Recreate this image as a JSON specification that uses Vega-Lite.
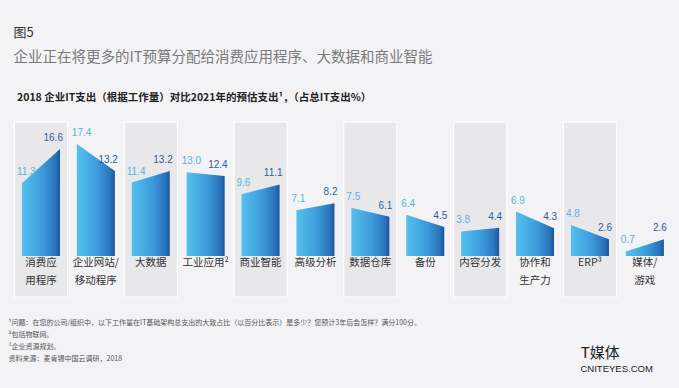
{
  "$schema": "https://vega.github.io/schema/vega-lite/v6.json",
  "autosize": {"type": "none"},
  "width": 658.8,
  "height": 175,
  "padding": {"left": 13.5, "top": 122, "right": 6.7, "bottom": 91},
  "background": "#f3f2f5",
  "title": {
    "text": "图5",
    "subtitle": "企业正在将更多的IT预算分配给消费应用程序、大数据和商业智能",
    "anchor": "start",
    "frame": "group",
    "font": "Noto Sans CJK SC",
    "fontSize": 13,
    "fontWeight": "normal",
    "color": "#333333",
    "subtitleFont": "Noto Sans CJK SC",
    "subtitleFontSize": 14.5,
    "subtitleColor": "#7a7a7a",
    "subtitlePadding": 11,
    "offset": 28
  },
  "config": {
    "view": {"stroke": null},
    "axis": {"domain": false, "ticks": false, "labels": false, "grid": false}
  },
  "data": {
    "values": [
      {"cat": "消费应\n用程序", "year": 2018, "value": 11.3},
      {"cat": "消费应\n用程序", "year": 2021, "value": 16.6},
      {"cat": "企业网站/\n移动程序", "year": 2018, "value": 17.4},
      {"cat": "企业网站/\n移动程序", "year": 2021, "value": 13.2},
      {"cat": "大数据", "year": 2018, "value": 11.4},
      {"cat": "大数据", "year": 2021, "value": 13.2},
      {"cat": "工业应用²", "year": 2018, "value": 13.0},
      {"cat": "工业应用²", "year": 2021, "value": 12.4},
      {"cat": "商业智能", "year": 2018, "value": 9.6},
      {"cat": "商业智能", "year": 2021, "value": 11.1},
      {"cat": "高级分析", "year": 2018, "value": 7.1},
      {"cat": "高级分析", "year": 2021, "value": 8.2},
      {"cat": "数据仓库", "year": 2018, "value": 7.5},
      {"cat": "数据仓库", "year": 2021, "value": 6.1},
      {"cat": "备份", "year": 2018, "value": 6.4},
      {"cat": "备份", "year": 2021, "value": 4.5},
      {"cat": "内容分发", "year": 2018, "value": 3.8},
      {"cat": "内容分发", "year": 2021, "value": 4.4},
      {"cat": "协作和\n生产力", "year": 2018, "value": 6.9},
      {"cat": "协作和\n生产力", "year": 2021, "value": 4.3},
      {"cat": "ERP³", "year": 2018, "value": 4.8},
      {"cat": "ERP³", "year": 2021, "value": 2.6},
      {"cat": "媒体/\n游戏", "year": 2018, "value": 0.7},
      {"cat": "媒体/\n游戏", "year": 2021, "value": 2.6}
    ]
  },
  "resolve": {"axis": {"x": "independent", "y": "independent"}},
  "layer": [
    {
      "transform": [{"filter": "datum.year == 2018"}],
      "mark": {"type": "rect", "strokeWidth": 1.2},
      "encoding": {
        "x": {
          "field": "cat", "type": "nominal", "sort": null, "bandPosition": 0,
          "scale": {"type": "band", "paddingInner": 0.03, "paddingOuter": 0.015},
          "axis": {
            "orient": "bottom",
            "title": ["¹问题：在您的公司/组织中，以下工作量在IT基础架构总支出的大致占比（以百分比表示）是多少？您预计3年后会怎样？满分100分。", "²包括物联网。", "³企业资源规划。", "资料来源：麦肯锡中国云调研，2018"],
            "titleFont": "Noto Sans CJK SC",
            "titleFontSize": 7,
            "titleFontWeight": "normal",
            "titleColor": "#555555",
            "titleLineHeight": 12,
            "titleAnchor": "start",
            "titleAlign": "left",
            "titleBaseline": "top",
            "titleX": -5.5,
            "titlePadding": 21
          }
        },
        "x2": {"field": "cat", "bandPosition": 1},
        "y": {
          "datum": 20.8, "type": "quantitative",
          "axis": {
            "orient": "right",
            "title": "T媒体",
            "titleFont": "Noto Sans CJK SC",
            "titleFontSize": 15,
            "titleFontWeight": "normal",
            "titleColor": "#222222",
            "titleAngle": 0,
            "titleAlign": "left",
            "titleBaseline": "middle",
            "titleX": -92,
            "titleY": 230
          }
        },
        "y2": {"datum": -6.37},
        "color": {
          "field": "cat", "type": "nominal", "legend": null, "sort": null,
          "scale": {"range": ["#e8e8eb", "#f3f2f5"]}
        },
        "stroke": {
          "field": "cat", "type": "nominal", "legend": null, "sort": null,
          "scale": {"range": ["#ffffff", "#f3f2f5"]}
        }
      }
    },
    {
      "mark": {
        "type": "area",
        "color": {
          "gradient": "linear", "x1": 0, "y1": 0, "x2": 1, "y2": 0,
          "stops": [
            {"offset": 0, "color": "#55c0ee"},
            {"offset": 0.55, "color": "#3c9bdb"},
            {"offset": 0.88, "color": "#2a73bb"},
            {"offset": 1, "color": "#1c5598"}
          ]
        }
      },
      "encoding": {
        "x": {
          "field": "cat", "type": "nominal", "sort": null,
          "scale": {"type": "band"},
          "axis": {
            "orient": "top",
            "title": "2018 企业IT支出（根据工作量）对比2021年的预估支出¹，（占总IT支出%）",
            "titleFont": "Noto Sans CJK SC",
            "titleFontSize": 10.5,
            "titleFontWeight": "bold",
            "titleColor": "#222222",
            "titleAnchor": "start",
            "titleAlign": "left",
            "titleX": 3,
            "titlePadding": 20
          }
        },
        "xOffset": {"field": "year", "type": "nominal", "scale": {"type": "point", "padding": 0.2}},
        "y": {
          "field": "value", "type": "quantitative", "stack": null,
          "scale": {"domain": [-6.37, 20.8], "nice": false, "zero": false},
          "axis": {
            "orient": "left",
            "title": "CNITEYES.COM",
            "titleFont": "Liberation Sans",
            "titleFontSize": 9.5,
            "titleFontWeight": "normal",
            "titleColor": "#222222",
            "titleAngle": 0,
            "titleAlign": "left",
            "titleBaseline": "middle",
            "titleX": 566.5,
            "titleY": 246
          }
        },
        "y2": {"datum": 0},
        "detail": {"field": "cat"}
      }
    },
    {
      "transform": [{"filter": "datum.year == 2018"}],
      "mark": {"type": "text", "align": "left", "baseline": "alphabetic", "dx": -5, "dy": -8, "font": "Liberation Sans", "fontSize": 10},
      "encoding": {
        "x": {"field": "cat", "type": "nominal", "sort": null, "scale": {"type": "band"}, "axis": null},
        "xOffset": {"field": "year", "type": "nominal"},
        "y": {"field": "value", "type": "quantitative", "axis": null},
        "text": {"field": "value", "type": "quantitative", "format": ".1f"},
        "color": {"value": "#5ab3dd"}
      }
    },
    {
      "transform": [{"filter": "datum.year == 2021"}],
      "mark": {"type": "text", "align": "right", "baseline": "alphabetic", "dx": 3, "dy": -8, "font": "Liberation Sans", "fontSize": 10},
      "encoding": {
        "x": {"field": "cat", "type": "nominal", "sort": null, "scale": {"type": "band"}, "axis": null},
        "xOffset": {"field": "year", "type": "nominal"},
        "y": {"field": "value", "type": "quantitative", "axis": null},
        "text": {"field": "value", "type": "quantitative", "format": ".1f"},
        "color": {"value": "#2d5f98"}
      }
    },
    {
      "transform": [{"filter": "datum.year == 2018"}],
      "mark": {"type": "text", "align": "center", "baseline": "top", "lineBreak": "\n", "lineHeight": 18, "font": "Noto Sans CJK SC", "fontSize": 10.5, "color": "#333333"},
      "encoding": {
        "x": {"field": "cat", "type": "nominal", "sort": null, "scale": {"type": "band"}, "axis": null},
        "y": {"datum": -0.25, "type": "quantitative", "axis": null},
        "text": {"field": "cat"}
      }
    }
  ]
}
